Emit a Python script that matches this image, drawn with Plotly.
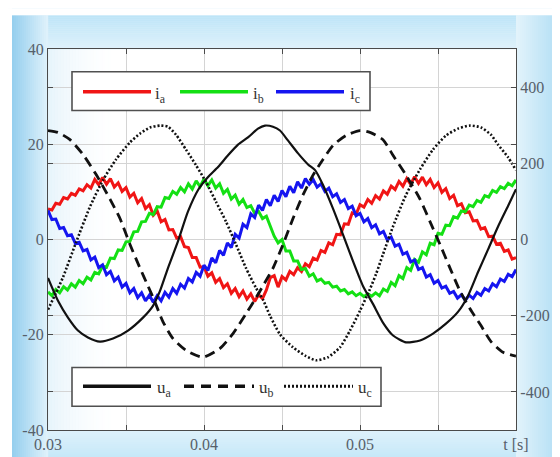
import numpy as np
import plotly.graph_objects as go

# ---------------- data ----------------
# phase currents [A], sampled every 0.25 ms from t = 0.03 s
T0 = 0.03
DT = 0.00025
ia = [6.4, 6.2, 7.6, 7.4, 8.8, 8.5, 9.7, 9.3, 10.6, 10.2, 11.5, 10.8, 12.6, 11.5, 13.0, 11.6, 12.8, 11.0, 11.9, 10.1,
      10.9, 8.9, 9.7, 7.7, 8.6, 6.5, 7.3, 5.1, 6.0, 3.7, 4.2, 2.0, 2.1, 0.3, 0.6, -1.5, -1.7, -3.8, -3.8, -5.8,
      -5.7, -7.7, -7.0, -9.0, -8.2, -10.1, -9.3, -11.3, -10.3, -12.0, -10.8, -12.5, -11.4, -13.0, -11.6, -12.4, -10.6, -8.0, -7.6, -10.0,
      -7.8, -8.5, -6.7, -7.4, -5.9, -6.7, -5.1, -5.7, -3.9, -4.3, -2.3, -2.7, -0.7, -1.1, 1.1, 1.0, 3.3, 3.2, 5.6, 5.3,
      7.3, 6.8, 8.4, 7.6, 9.2, 8.5, 10.2, 9.5, 11.2, 10.5, 12.2, 11.2, 12.8, 11.6, 13.2, 11.8, 13.1, 11.5, 12.6, 10.9,
      11.9, 9.9, 10.7, 8.6, 9.3, 7.1, 7.5, 5.6, 5.8, 3.9, 4.0, 2.2, 2.5, 0.6, 0.7, -1.0, -0.8, -2.5, -2.2, -4.1,
      -3.8]
ib = [-11.0, -11.8, -10.5, -11.2, -9.9, -10.6, -9.3, -10.0, -8.6, -9.3, -7.9, -8.5, -6.9, -7.2, -5.6, -5.8, -3.9, -4.0, -2.2, -2.3,
      -0.5, -0.4, 1.6, 1.7, 3.7, 3.8, 5.5, 5.2, 6.9, 6.8, 8.8, 8.6, 10.1, 9.5, 10.9, 10.0, 11.7, 10.6, 12.3, 11.1,
      12.7, 11.3, 12.5, 10.8, 11.7, 9.7, 10.5, 8.5, 9.3, 7.4, 8.4, 6.7, 7.1, 5.5, 5.9, 4.4, 4.9, 2.9, 0.7, -0.7,
      0.0, -2.4, -2.4, -4.5, -4.5, -6.3, -6.1, -7.7, -7.2, -8.7, -8.3, -9.2, -9.0, -10.0, -9.8, -10.8, -10.5, -11.4, -11.0, -11.8,
      -11.3, -12.0, -11.4, -11.9, -11.2, -11.8, -10.4, -10.9, -9.0, -9.7, -7.6, -8.2, -5.9, -6.5, -4.2, -4.8, -2.6, -3.2, -0.8, -1.1,
      1.3, 1.1, 3.0, 2.9, 4.8, 4.5, 6.0, 5.8, 7.2, 6.9, 8.2, 7.8, 9.2, 8.9, 10.3, 9.9, 11.1, 10.7, 11.8, 11.3,
      12.5]
ic = [6.1, 4.2, 4.3, 2.3, 2.5, 0.8, 1.0, -0.8, -0.6, -2.4, -2.1, -4.3, -3.7, -5.9, -5.3, -7.4, -6.7, -8.7, -7.9, -10.0,
      -9.2, -11.2, -10.3, -12.2, -11.2, -12.9, -11.7, -13.2, -11.8, -12.9, -11.1, -12.1, -10.3, -11.3, -9.4, -10.2, -8.2, -8.9, -6.9, -7.7,
      -5.4, -6.5, -3.9, -4.9, -2.3, -3.3, -0.7, -1.7, 1.1, 0.3, 3.2, 2.5, 5.4, 4.6, 7.2, 6.1, 8.4, 7.1, 9.3, 8.0,
      10.3, 9.0, 11.2, 9.8, 12.1, 10.8, 12.8, 11.6, 12.6, 11.0, 11.7, 10.1, 10.8, 9.0, 9.6, 7.8, 8.4, 6.5, 7.0, 5.0,
      5.5, 3.7, 4.4, 2.5, 3.1, 1.2, 1.7, -0.1, 0.5, -1.4, -1.0, -3.1, -2.7, -4.7, -4.3, -6.3, -5.9, -7.9, -7.4, -9.2,
      -8.6, -10.2, -9.8, -11.3, -10.9, -12.3, -11.6, -12.8, -11.7, -12.4, -11.1, -11.7, -10.3, -10.8, -9.3, -9.9, -8.3, -8.8, -7.3, -7.8,
      -6.3]

# phase voltages [V]
ua_t = [0.03000, 0.03064, 0.03128, 0.03192, 0.03256, 0.03333, 0.03417, 0.03513, 0.03609, 0.03673,
        0.03718, 0.03769, 0.03833, 0.03897, 0.03962, 0.04026, 0.04090, 0.04154, 0.04218, 0.04282,
        0.04346, 0.04391, 0.04442, 0.04487, 0.04538, 0.04603, 0.04667, 0.04712, 0.04763, 0.04827,
        0.04891, 0.04955, 0.05019, 0.05083, 0.05147, 0.05212, 0.05295, 0.05385, 0.05468, 0.05551,
        0.05628, 0.05692, 0.05756, 0.05821, 0.05885, 0.05949, 0.06000]
ua_v = [-101, -161, -205, -239, -257, -268, -260, -239, -205, -174,
        -135, -75, -5, 73, 130, 164, 190, 221, 249, 268,
        291, 299, 296, 286, 260, 226, 197, 182, 143, 81,
        13, -57, -122, -169, -218, -252, -270, -265, -247, -221,
        -190, -148, -86, -26, 34, 88, 132]

ub_t = [0.030000, 0.030641, 0.031410, 0.032244, 0.033077, 0.033974, 0.034615, 0.035256, 0.035897, 0.036410,
        0.036795, 0.037372, 0.038013, 0.038846, 0.039936, 0.041026, 0.041859, 0.042692, 0.043333, 0.043846,
        0.044423, 0.045064, 0.045705, 0.046346, 0.046987, 0.047628, 0.048269, 0.049103, 0.050000, 0.050641,
        0.051474, 0.052115, 0.052949, 0.053846, 0.054487, 0.055128, 0.055769, 0.056410, 0.057051, 0.057756,
        0.058397, 0.059167, 0.060000]
ub_v = [286, 281, 262, 223, 171, 106, 55, -13, -75, -122,
        -158, -216, -260, -291, -309, -286, -247, -195, -153, -117,
        -75, -13, 55, 117, 169, 210, 247, 273, 286, 281,
        262, 221, 169, 106, 47, -13, -75, -135, -182, -226,
        -268, -296, -306]

uc_t = [0.030000, 0.030513, 0.030962, 0.031795, 0.032692, 0.033526, 0.034359, 0.035256, 0.035897, 0.036538,
        0.037179, 0.037692, 0.038205, 0.038846, 0.039487, 0.040128, 0.040769, 0.041410, 0.042051, 0.042692,
        0.043333, 0.043782, 0.044231, 0.044872, 0.045705, 0.046538, 0.047179, 0.047949, 0.048718, 0.049359,
        0.050000, 0.050641, 0.051026, 0.051474, 0.052115, 0.052949, 0.053846, 0.054679, 0.055513, 0.056282,
        0.057051, 0.057756, 0.058397, 0.058846, 0.059487, 0.060000]
uc_v = [-184, -140, -99, -8, 86, 156, 210, 255, 278, 294,
        299, 296, 275, 236, 195, 151, 99, 47, -13, -75,
        -127, -158, -200, -249, -283, -306, -317, -309, -283, -239,
        -187, -130, -91, -39, 34, 117, 184, 236, 273, 291,
        299, 294, 275, 249, 216, 182]

x_tickvals = [0.03, 0.04, 0.05, 0.06]
x_ticktext = ["0.03", "0.04", "0.05", "t [s]"]
yl_tickvals = [-40, -20, 0, 20, 40]
yl_ticktext = ["-40", "-20", "0", "20", "40"]
yr_tickvals = [-400, -200, 0, 200, 400]
yr_ticktext = ["-400", "-200", "0", "200", "400"]

# ---------------- figure ----------------
W, H = 560, 457
L, R, T, B = 40, 52, 41, 32
PW, PH = W - L - R, H - T - B


def px(x):
    return (x - L) / PW


def py(y):
    return (H - B - y) / PH


t_cur = np.round(T0 + DT * np.arange(len(ia)), 6)

fig = go.Figure()
cur_style = [("ia", ia, "#f01515"), ("ib", ib, "#14e014"), ("ic", ic, "#1515f0")]
for name, vals, col in cur_style:
    fig.add_trace(go.Scatter(x=t_cur, y=vals, mode="lines", name=name,
                             line=dict(color=col, width=3), yaxis="y"))

volt_style = [("ua", ua_t, ua_v, "solid", 2.2), ("ub", ub_t, ub_v, "10px,6px", 2.8),
              ("uc", uc_t, uc_v, "2px,2px", 2.6)]
for name, tt, vv, dash, w in volt_style:
    fig.add_trace(go.Scatter(x=tt, y=vv, mode="lines", name=name,
                             line=dict(color="#111111", width=w, dash=dash, shape="spline", smoothing=0.6),
                             yaxis="y2"))

FONT = "Liberation Serif, Times New Roman, serif"
tickfont = dict(family=FONT, size=16, color="#56606a")
grid = "#d4d4d4"
axcol = "#4a4a4a"

fig.update_layout(
    width=W, height=H,
    margin=dict(l=L, r=R, t=T, b=B, pad=0),
    paper_bgcolor="#dcf0fa",
    plot_bgcolor="#ffffff",
    showlegend=False,
    xaxis=dict(range=[0.03, 0.06], tickvals=x_tickvals, ticktext=x_ticktext,
               showgrid=True, gridcolor=grid, gridwidth=1, zeroline=False,
               showline=True, linecolor=axcol, linewidth=1.2, mirror="ticks",
               ticks="inside", ticklen=5, tickcolor=axcol, tickfont=tickfont,
               minor=dict(dtick=0.005, tick0=0.03, showgrid=True, gridcolor=grid, gridwidth=1,
                          ticks="inside", ticklen=5, tickcolor=axcol)),
    yaxis=dict(range=[-40, 40], tickvals=yl_tickvals, ticktext=yl_ticktext,
               showgrid=True, gridcolor=grid, gridwidth=1, zeroline=False,
               showline=True, linecolor=axcol, linewidth=1.2, mirror="ticks",
               ticks="inside", ticklen=5, tickcolor=axcol, tickfont=tickfont),
    yaxis2=dict(range=[-500, 500], tickvals=yr_tickvals, ticktext=yr_ticktext,
                overlaying="y", side="right",
                showgrid=True, gridcolor=grid, gridwidth=1, zeroline=False,
                showline=True, linecolor=axcol, linewidth=1.2, mirror="ticks",
                ticks="inside", ticklen=5, tickcolor=axcol, tickfont=tickfont),
)

shapes = []


def mix(c0, c1, f):
    return "rgb(%d,%d,%d)" % tuple(round(a + (b - a) * f) for a, b in zip(c0, c1))


def band(x0, y0, x1, y1, col, layer="below", op=1.0):
    shapes.append(dict(type="rect", xref="paper", yref="paper",
                       x0=px(x0), x1=px(x1), y0=py(y1), y1=py(y0),
                       fillcolor=col, line=dict(width=0), layer=layer, opacity=op))


# background gradient frame
n = 17
for i in range(n):
    y0 = 7 + i * 2
    band(0, y0, W, y0 + 2.2, mix((190, 229, 247), (222, 241, 251), i / (n - 1)))
for i in range(16):
    y0 = 425 + i * 2
    band(0, y0, W, y0 + 2.2, mix((222, 241, 251), (195, 231, 248), i / 15))
for i in range(18):
    x0 = 4 + i * 2
    band(x0, 7, x0 + 2.2, H, mix((150, 207, 238), (222, 241, 251), i / 17))
for i in range(26):
    x0 = 508 + i * 2
    band(x0, 7, x0 + 2.2, H, mix((226, 243, 251), (168, 218, 243), i / 25))
band(0, 0, W, 7, "#ffffff")
band(0, 0, 4, H, "#ffffff")
# very faint tint inside the left part of the plot area
for i in range(24):
    x0 = 40 + i * 3
    band(x0, 41, x0 + 3.2, 425, "rgba(205,232,247,%.3f)" % (0.45 * (1 - i / 24) ** 2))


def legbox(x0, y0, x1, y1):
    shapes.append(dict(type="rect", xref="paper", yref="paper",
                       x0=px(x0), x1=px(x1), y0=py(y1), y1=py(y0),
                       fillcolor="#ffffff", line=dict(color="#505050", width=1.6), layer="above"))


def legline(x0, x1, y, col, w, dash="solid"):
    shapes.append(dict(type="line", xref="paper", yref="paper",
                       x0=px(x0), x1=px(x1), y0=py(y), y1=py(y),
                       line=dict(color=col, width=w, dash=dash), layer="above"))


legbox(64, 64, 362, 103)
legline(75, 143, 84, "#f01515", 3.5)
legline(172, 240, 84, "#14e014", 3.5)
legline(268, 336, 84, "#1515f0", 3.5)

legbox(64, 362, 373, 401)
legline(75, 143, 381, "#111111", 3.5)
legline(176, 246, 381, "#111111", 3.5, "10px,7px")
legline(276, 345, 381, "#111111", 3.0, "2px,2px")

fig.update_layout(shapes=shapes)

ann = []
for x, y, txt in [(145, 87, "i<sub>a</sub>"), (243, 87, "i<sub>b</sub>"), (340, 87, "i<sub>c</sub>"),
                  (147, 384, "u<sub>a</sub>"), (249, 384, "u<sub>b</sub>"), (348, 384, "u<sub>c</sub>")]:
    ann.append(dict(xref="paper", yref="paper", x=px(x), y=py(y), text=txt, showarrow=False,
                    xanchor="left", yanchor="middle",
                    font=dict(family=FONT, size=17, color="#333333")))
fig.update_layout(annotations=ann)

fig.write_html("out.html")
